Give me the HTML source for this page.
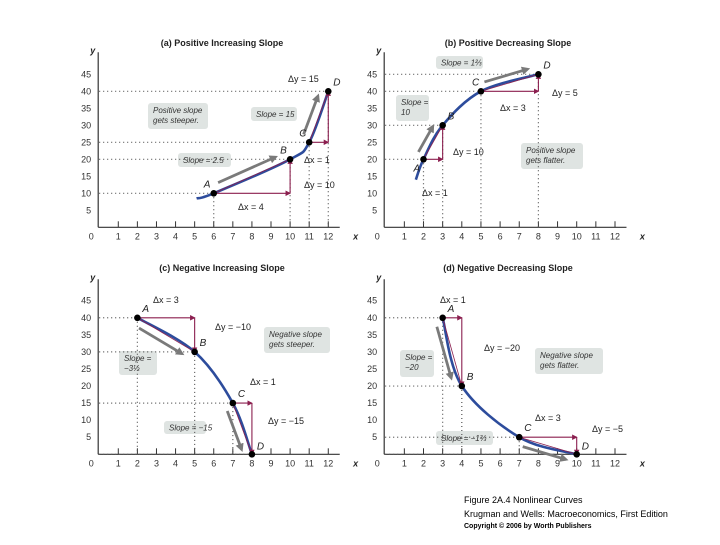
<!DOCTYPE html>
<html><head><meta charset="utf-8"><style>
html,body{margin:0;padding:0;background:#fff;}
svg text{font-family:"Liberation Sans","DejaVu Sans",sans-serif;}
.t{font-size:9px;font-weight:bold;fill:#222;}
.tk{font-size:9px;fill:#333;}
.ax{font-size:9px;font-style:italic;font-weight:bold;fill:#222;}
.lb{font-size:9px;fill:#222;}
.pt{font-size:10px;font-style:italic;fill:#222;}
.co{font-size:8px;font-style:italic;fill:#333;}
.cap{font-size:9px;fill:#000;}
</style></head><body>
<svg id="fig" width="720" height="540" viewBox="0 0 720 540" xmlns="http://www.w3.org/2000/svg">
<defs>
<marker id="mr" viewBox="0 0 6 6" refX="5" refY="3" markerWidth="5" markerHeight="5" orient="auto"><path d="M0,0L6,3L0,6z" fill="#8b1f4f"/></marker>
<marker id="mg" viewBox="0 0 6 6" refX="4" refY="3" markerWidth="3" markerHeight="3" orient="auto"><path d="M0,0L6,3L0,6z" fill="#7a7a7a"/></marker>
</defs>
<g id="panels"></g>
<text class="cap" x="464" y="503">Figure 2A.4  Nonlinear Curves</text>
<text class="cap" x="464" y="517">Krugman and Wells: Macroeconomics, First Edition</text>
<text class="cap" x="464" y="528" style="font-size:7px;font-weight:bold">Copyright © 2006 by Worth Publishers</text>
</svg>
<script>
// data
const panelTitles = ["(a) Positive Increasing Slope","(b) Positive Decreasing Slope","(c) Negative Increasing Slope","(d) Negative Decreasing Slope"];
const pointNames = ["A","B","C","D"];
const xTicks = [1,2,3,4,5,6,7,8,9,10,11,12];
const yTicks = [5,10,15,20,25,30,35,40,45];
const aX = [6,10,11,12], aY = [10,20,25,40];
const bX = [2,3,5,8],   bY = [20,30,40,45];
const cX = [2,5,7,8],   cY = [40,30,15,0];
const dX = [3,4,7,10],  dY = [40,20,5,0];
const aStart = [5.1,8.5], bStart = [1.6,14], cStart = null, dStart = null;

const NS="http://www.w3.org/2000/svg";
const root=document.getElementById('panels');
function mk(tag,attrs,parent,text){const e=document.createElementNS(NS,tag);for(const k in attrs)e.setAttribute(k,attrs[k]);if(text!==undefined)e.textContent=text;(parent||root).appendChild(e);return e;}

const layouts=[
 {ox:99.2,ux:19.09,oy:227.3,uy:3.4,tx:222,ty:46,off:8},
 {ox:385.2,ux:19.15,oy:227.3,uy:3.4,tx:508,ty:46,off:8},
 {ox:99.2,ux:19.09,oy:454.3,uy:3.413,tx:222,ty:271,off:-8},
 {ox:385.2,ux:19.15,oy:454.3,uy:3.413,tx:508,ty:271,off:-8}];
const datasets=[[aX,aY,aStart],[bX,bY,bStart],[cX,cY,cStart],[dX,dY,dStart]];
const callouts=[
 [{x:148,y:103,w:60,h:26,l:["Positive slope","gets steeper."]},{x:251,y:107,w:46,h:14,l:["Slope = 15"]},{x:178,y:153,w:53,h:14,l:["Slope = 2.5"]}],
 [{x:436,y:56,w:47,h:13,l:["Slope = 1⅔"]},{x:396,y:95,w:33,h:26,l:["Slope =","10"]},{x:521,y:143,w:62,h:26,l:["Positive slope","gets flatter."]}],
 [{x:264,y:327,w:66,h:26,l:["Negative slope","gets steeper."]},{x:119,y:351,w:38,h:24,l:["Slope =","−3⅓"]},{x:164,y:421,w:42,h:13,l:["Slope = −15"]}],
 [{x:535,y:348,w:68,h:26,l:["Negative slope","gets flatter."]},{x:400,y:350,w:34,h:27,l:["Slope =","−20"]},{x:436,y:431,w:57,h:14,l:["Slope = −1⅔"]}]];
const deltaLabels=[
 [["Δy = 15",288,82],["Δx = 1",304,163],["Δy = 10",304,188],["Δx = 4",238,210]],
 [["Δy = 5",552,96],["Δx = 3",500,111],["Δy = 10",453,155],["Δx = 1",422,196]],
 [["Δx = 3",153,303],["Δy = −10",215,330],["Δx = 1",250,385],["Δy = −15",268,424]],
 [["Δx = 1",440,303],["Δy = −20",484,351],["Δx = 3",535,421],["Δy = −5",592,432]]];

function catmull(pts){let d=`M${pts[0][0]},${pts[0][1]}`;for(let i=0;i<pts.length-1;i++){const p0=pts[Math.max(i-1,0)],p1=pts[i],p2=pts[i+1],p3=pts[Math.min(i+2,pts.length-1)];
 const c1=[p1[0]+(p2[0]-p0[0])/6,p1[1]+(p2[1]-p0[1])/6],c2=[p2[0]-(p3[0]-p1[0])/6,p2[1]-(p3[1]-p1[1])/6];
 d+=` C${c1[0].toFixed(1)},${c1[1].toFixed(1)} ${c2[0].toFixed(1)},${c2[1].toFixed(1)} ${p2[0].toFixed(1)},${p2[1].toFixed(1)}`;}return d;}

layouts.forEach((L,pi)=>{
 const X=v=>L.ox+v*L.ux, Y=v=>L.oy-v*L.uy;
 const g=mk('g',{});
 
 
 const t=mk('text',{x:L.tx,y:L.ty,'text-anchor':'middle',class:'t'},g,panelTitles[pi]);
 
 
 const ya=mk('line',{x1:L.ox-1,y1:L.oy-175,x2:L.ox-1,y2:L.oy,stroke:'#333','stroke-width':1.2},g);
 
 
 const xa=mk('line',{x1:L.ox-1,y1:L.oy,x2:X(12.6),y2:L.oy,stroke:'#333','stroke-width':1.2},g);
 
 
 const yl=mk('text',{x:L.ox-9,y:L.oy-174,class:'ax'},g,'y');
 
 
 const xl=mk('text',{x:X(13.3),y:L.oy+12,class:'ax'},g,'x');
 
 
 mk('text',{x:L.ox-8,y:L.oy+12,class:'tk','text-anchor':'middle'},g,'0');
 xTicks.forEach(v=>{
  const tl=mk('line',{x1:X(v),y1:L.oy,x2:X(v),y2:L.oy-6,stroke:'#333','stroke-width':1},g);
  
  
  const tx=mk('text',{x:X(v),y:L.oy+12,class:'tk','text-anchor':'middle'},g,String(v));
  
  
 });
 yTicks.forEach(v=>{
  const ty=mk('text',{x:L.ox-8,y:Y(v)+3,class:'tk','text-anchor':'end'},g,String(v));
  
  
 });
 const [xs,ys,st]=datasets[pi];
 callouts[pi].forEach(c=>{
  const r=mk('rect',{x:c.x,y:c.y,width:c.w,height:c.h,rx:3,fill:'#dfe4e2'},g);
  
  
  c.l.forEach((s,i)=>mk('text',{x:c.x+5,y:c.y+(c.l.length==1?c.h/2+3:10+i*10),class:'co'},g,s));
 });
 xs.forEach((xv,i)=>{
  const d1=mk('line',{x1:L.ox,y1:Y(ys[i]),x2:X(xv),y2:Y(ys[i]),stroke:'#555','stroke-width':1.2,'stroke-dasharray':'1 3'},g);
  
  
  const d2=mk('line',{x1:X(xv),y1:Y(ys[i]),x2:X(xv),y2:L.oy,stroke:'#555','stroke-width':1.2,'stroke-dasharray':'1 3'},g);
  
  
 });
 const pts=xs.map((xv,i)=>[X(xv),Y(ys[i])]);
 if(st) pts.unshift([X(st[0]),Y(st[1])]);
 const cv=mk('path',{d:catmull(pts),fill:'none',stroke:'#2d4c9c','stroke-width':2.6},g);
 
 
 [[0,1],[2,3]].forEach(([i,j])=>{
  const x1=X(xs[i]),y1=Y(ys[i]),x2=X(xs[j]),y2=Y(ys[j]);
  const ch=mk('line',{x1,y1,x2,y2,stroke:'#8b1f4f','stroke-width':0.8},g);
  
  
  const dx=mk('line',{x1,y1,x2,y2:y1,stroke:'#8b1f4f','stroke-width':1.1,'marker-end':'url(#mr)'},g);
  
  
  const dy=mk('line',{x1:x2,y1,x2,y2,stroke:'#8b1f4f','stroke-width':1.1,'marker-end':'url(#mr)'},g);
  
  
  const len=Math.hypot(x2-x1,y2-y1), ux=(x2-x1)/len, uy=(y2-y1)/len;
  const nx=uy, ny=-ux; const off=L.off;
  const a1=[x1+ux*len*0.1+nx*off, y1+uy*len*0.1+ny*off], a2=[x1+ux*len*0.85+nx*off, y1+uy*len*0.85+ny*off];
  const sa=mk('line',{x1:a1[0],y1:a1[1],x2:a2[0],y2:a2[1],stroke:'#7a7a7a','stroke-width':2.8,'marker-end':'url(#mg)'},g);
  
  
 });
 deltaLabels[pi].forEach(d=>{
  const e=mk('text',{x:d[1],y:d[2],class:'lb'},g,d[0]);
  
  
 });
 xs.forEach((xv,i)=>{
  const c=mk('circle',{cx:X(xv),cy:Y(ys[i]),r:3.3,fill:'#000'},g);
  
  
  const lx=X(xv)+(pi==0&&i<3?-10:pi==1&&i==0?-10:pi==1&&i==2?-9:5);
  const ly=Y(ys[i])+(pi==1&&i==0?12:pi>=2&&i==3?-5:-6);
  const l=mk('text',{x:lx,y:ly,class:'pt'},g,pointNames[i]);
  
  
 });
});
</script>
</body></html>
